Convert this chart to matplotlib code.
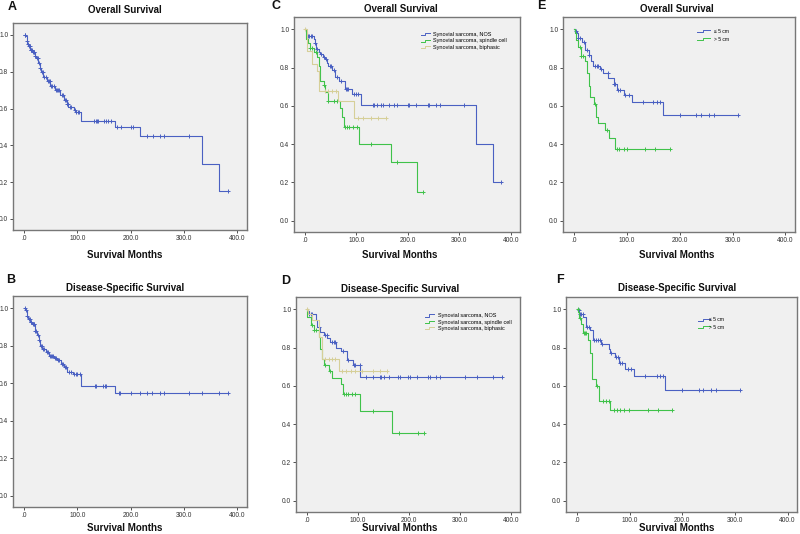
import numpy as np
import matplotlib
matplotlib.use("Agg")
import matplotlib.pyplot as plt
from matplotlib.legend_handler import HandlerBase
from matplotlib.lines import Line2D

plt.rcParams['font.family'] = ['Liberation Sans', 'DejaVu Sans']

# ---------------- data ----------------
x_ticks = [0, 100, 200, 300, 400]
x_tick_labels = [".0", "100.0", "200.0", "300.0", "400.0"]
y_ticks = [0.0, 0.2, 0.4, 0.6, 0.8, 1.0]
y_tick_labels = ["0.0", "0.2", "0.4", "0.6", "0.8", "1.0"]

# Panel A: overall survival, all patients
A_t = [0, 3, 4.5, 6, 8, 11, 15, 20, 23, 26.5, 29, 31, 36, 42, 49, 58, 68, 74, 80, 83, 93, 96, 106, 170, 218, 333, 366]
A_s = [1.0, 0.995, 0.967, 0.95, 0.94, 0.92, 0.91, 0.887, 0.874, 0.85, 0.82, 0.80, 0.773, 0.75, 0.725, 0.70, 0.674,
       0.644, 0.626, 0.61, 0.59, 0.58, 0.532, 0.50, 0.45, 0.30, 0.15]
A_end = 382
A_cens = [1, 2, 5, 7, 9, 10, 12, 13, 14, 16, 18, 19, 21, 24, 25, 27, 30, 33, 35, 38, 40, 44, 46, 48, 51, 53, 55, 60,
          62, 64, 66, 70, 72, 76, 79, 81, 82, 86, 88, 95, 98, 101, 103, 131, 134, 136, 138, 150, 153, 157, 163, 175,
          181, 200, 204, 231, 241, 254, 263, 310, 382]

# Panel B: disease-specific survival, all patients
B_t = [0, 2, 5, 8, 11.4, 14.6, 20, 24, 27, 29, 34, 40, 46, 56, 62, 69, 75, 81, 91, 107, 170]
B_s = [1.0, 0.99, 0.96, 0.943, 0.925, 0.915, 0.88, 0.855, 0.83, 0.80, 0.78, 0.766, 0.743, 0.735, 0.722, 0.70, 0.687,
       0.66, 0.648, 0.586, 0.55]
B_end = 382
B_cens = [1, 3, 6, 9, 10, 12, 13, 16, 18, 19, 21, 23, 25, 28, 31, 33, 36, 38, 42, 44, 48, 50, 52, 54, 58, 60, 64, 66,
          70, 72, 77, 79, 84, 88, 94, 97, 100, 104, 132, 135, 148, 151, 154, 177, 180, 201, 217, 231, 240, 254, 263,
          310, 333, 366, 382]

# Panel C: overall survival by histology
C_nos_t = [0, 2.6, 4.5, 17, 19, 22, 27, 30, 35, 40, 43, 46, 53, 58, 66, 78, 91, 109, 333, 366]
C_nos_s = [1.0, 0.988, 0.965, 0.95, 0.93, 0.90, 0.88, 0.87, 0.857, 0.843, 0.826, 0.81, 0.79, 0.753, 0.73, 0.69,
           0.664, 0.605, 0.40, 0.20]
C_nos_end = 382
C_nos_cens = [6, 9, 12, 14, 20, 24, 32, 37, 41, 48, 50, 56, 62, 70, 80, 82, 84, 95, 100, 104, 132, 134, 141, 148,
              151, 164, 174, 180, 200, 202, 216, 239, 242, 255, 263, 310, 382]
C_spin_t = [0, 2.6, 6, 11, 17, 24, 27, 30, 37, 40, 45, 69, 73, 77, 105, 168, 217]
C_spin_s = [1.0, 0.948, 0.93, 0.904, 0.88, 0.857, 0.81, 0.73, 0.708, 0.673, 0.626, 0.59, 0.54, 0.487, 0.403, 0.304,
            0.151]
C_spin_end = 230
C_spin_cens = [11, 14, 21, 37, 46, 56, 62, 78, 82, 85, 93, 101, 128, 180, 230]
C_bi_t = [0, 4.5, 13, 24, 27, 28, 64, 95]
C_bi_s = [1.0, 0.887, 0.817, 0.78, 0.73, 0.678, 0.626, 0.536]
C_bi_end = 157
C_bi_cens = [1, 40, 46, 53, 60, 104, 114, 129, 143, 157]

# Panel D: disease-specific survival by histology
D_nos_t = [0, 3, 4.5, 17.5, 19, 21, 27, 34, 40, 45, 58, 68, 79, 90, 105]
D_nos_s = [1.0, 0.99, 0.977, 0.96, 0.943, 0.908, 0.88, 0.864, 0.85, 0.83, 0.80, 0.78, 0.737, 0.708, 0.647]
D_nos_end = 382
D_nos_cens = [5, 8, 11, 25, 35, 39, 50, 53, 56, 71, 80, 92, 95, 104, 116, 130, 143, 146, 152, 162, 178, 182, 199, 202,
              216, 238, 241, 254, 262, 310, 333, 366, 382]
D_spin_t = [0, 1.3, 8, 14, 24, 27, 30, 34, 43, 49, 68, 71, 105, 167]
D_spin_s = [1.0, 0.96, 0.916, 0.89, 0.855, 0.795, 0.743, 0.708, 0.68, 0.643, 0.609, 0.56, 0.47, 0.355]
D_spin_end = 230
D_spin_cens = [11, 14, 18, 36, 45, 74, 77, 80, 88, 95, 130, 180, 218, 230]
D_bi_t = [0, 3, 10, 24, 29, 63]
D_bi_s = [1.0, 0.977, 0.943, 0.855, 0.743, 0.68]
D_bi_end = 157
D_bi_cens = [1, 36, 43, 50, 56, 70, 77, 86, 95, 108, 129, 144, 157]

# Panel E: overall survival by tumour size
E_le_t = [0, 2, 5, 7, 14.5, 21, 28, 32, 35, 49, 54, 65, 75, 81, 93.5, 109, 169]
E_le_s = [1.0, 0.993, 0.98, 0.954, 0.936, 0.893, 0.868, 0.833, 0.81, 0.794, 0.773, 0.747, 0.713, 0.684, 0.656, 0.619,
          0.55]
E_le_end = 310
E_le_cens = [3, 8, 11, 18, 24, 29, 40, 43, 45, 51, 64, 75, 78, 83, 87, 97, 103, 131, 150, 157, 163, 201, 231, 240,
             255, 264, 310]
E_gt_t = [0, 2, 4, 8, 13, 20, 24, 28, 30, 38.5, 42, 46, 59, 66, 78]
E_gt_s = [1.0, 0.98, 0.945, 0.91, 0.862, 0.833, 0.773, 0.704, 0.644, 0.61, 0.54, 0.512, 0.472, 0.433, 0.375]
E_gt_end = 182
E_gt_cens = [11, 14, 17, 40, 62, 81, 85, 95, 100, 135, 154, 182]

# Panel F: disease-specific survival by tumour size
F_le_t = [0, 2.5, 4.5, 12, 17, 25, 29.5, 31, 46, 60, 63.5, 73, 79.5, 92, 108, 168]
F_le_s = [1.0, 0.995, 0.976, 0.96, 0.907, 0.89, 0.873, 0.838, 0.82, 0.795, 0.773, 0.749, 0.72, 0.69, 0.652, 0.58]
F_le_end = 310
F_le_cens = [3, 6, 8, 11, 19, 23, 33, 36, 40, 43, 48, 64, 74, 78, 82, 86, 96, 102, 130, 151, 157, 163, 200, 231, 240,
             255, 264, 310]
F_gt_t = [0, 2.5, 4, 8, 12, 20.5, 24, 28, 36, 42, 63]
F_gt_s = [1.0, 0.985, 0.955, 0.924, 0.876, 0.842, 0.773, 0.635, 0.597, 0.523, 0.472]
F_gt_end = 181
F_gt_cens = [1, 6, 13, 15, 17, 38, 50, 55, 60, 70, 76, 82, 90, 98, 135, 153, 181]

histology_labels = ["Synovial sarcoma, NOS", "Synovial sarcoma, spindle cell", "Synovial sarcoma, biphasic"]
size_labels = ["\u2264 5 cm", "> 5 cm"]

# ---------------- styling ----------------
BLUE = "#4a60c2"
GREEN = "#3fc24a"
TAN = "#d6cf98"
BG = "#f0f0f0"
EDGE = "#777777"

W, H = 800, 534
fig = plt.figure(figsize=(W / 100, H / 100), dpi=100)
fig.patch.set_facecolor("white")


def px_axes(left, top, right, bottom):
    return fig.add_axes([left / W, 1 - bottom / H, (right - left) / W, (bottom - top) / H])


def ftext(x, y, s, **kw):
    fig.text(x / W, 1 - y / H, s, **kw)


class StepHandler(HandlerBase):
    def create_artists(self, legend, orig_handle, xdescent, ydescent, width, height, fontsize, trans):
        x0, y0 = -xdescent, -ydescent
        xs = [x0, x0 + width * 0.45, x0 + width * 0.45, x0 + width]
        ys = [y0 + height * 0.15, y0 + height * 0.15, y0 + height * 0.7, y0 + height * 0.7]
        ln = Line2D(xs, ys, color=orig_handle.get_color(), lw=0.7, transform=trans)
        return [ln]


def km(ax, t, s, end, cens, color):
    t = np.asarray(t, float)
    s = np.asarray(s, float)
    xs = np.append(t, end)
    ys = np.append(s, s[-1])
    line, = ax.step(xs, ys, where="post", color=color, lw=0.8)
    c = np.asarray(cens, float)
    idx = np.searchsorted(t, c, side="right") - 1
    ax.plot(c, s[idx], linestyle="none", marker="+", ms=3.2, mew=0.7, color=color)
    return line


def style(ax):
    ax.set_facecolor(BG)
    for sp in ax.spines.values():
        sp.set_color(EDGE)
        sp.set_linewidth(1.0)
    ax.set_xlim(-21, 418)
    ax.set_ylim(-0.06, 1.065)
    ax.set_xticks(x_ticks)
    ax.set_xticklabels(x_tick_labels)
    ax.set_yticks(y_ticks)
    ax.set_yticklabels(y_tick_labels)
    ax.tick_params(axis="both", direction="out", length=2.2, width=0.6, color="#333333",
                   labelsize=4.8, labelcolor="#333333", pad=1.2)


TITLE_KW = dict(fontsize=7.0, fontweight="bold", ha="center", va="center", color="#111111")
LETTER_KW = dict(fontsize=9, fontweight="bold", ha="center", va="center", color="#111111")

# panel boxes in pixels: left, top, right, bottom
boxes = {
    "A": (13, 23, 247, 230),
    "B": (13, 296, 247, 507),
    "C": (294, 17, 520, 232),
    "D": (296, 297, 520, 512),
    "E": (563, 17, 795, 232),
    "F": (566, 297, 797, 512),
}
titles = {"A": "Overall Survival", "B": "Disease-Specific Survival", "C": "Overall Survival",
          "D": "Disease-Specific Survival", "E": "Overall Survival", "F": "Disease-Specific Survival"}
title_pos = {"A": (125, 10), "B": (125, 288), "C": (401, 9), "D": (400, 289), "E": (677, 9), "F": (677, 288)}
letter_pos = {"A": (12, 7), "B": (11, 280), "C": (276, 6), "D": (286, 281), "E": (541, 6), "F": (560, 280)}
xlabel_pos = {"A": (125, 255), "B": (125, 528), "C": (400, 255), "D": (400, 528), "E": (677, 255), "F": (677, 528)}

axes = {}
for k, b in boxes.items():
    ax = px_axes(*b)
    style(ax)
    axes[k] = ax
    ftext(*title_pos[k], titles[k], **TITLE_KW)
    ftext(*letter_pos[k], k, **LETTER_KW)
    ftext(*xlabel_pos[k], "Survival Months", **TITLE_KW)

km(axes["A"], A_t, A_s, A_end, A_cens, BLUE)
km(axes["B"], B_t, B_s, B_end, B_cens, BLUE)

leg_kw = dict(frameon=False, handler_map={Line2D: StepHandler()}, borderpad=0, borderaxespad=0)

hc = [km(axes["C"], C_nos_t, C_nos_s, C_nos_end, C_nos_cens, BLUE),
      km(axes["C"], C_spin_t, C_spin_s, C_spin_end, C_spin_cens, GREEN),
      km(axes["C"], C_bi_t, C_bi_s, C_bi_end, C_bi_cens, TAN)]
axes["C"].legend(hc, histology_labels, loc="upper left", bbox_to_anchor=(0.56, 0.93), fontsize=4.0,
                 handlelength=1.7, handletextpad=0.6, labelspacing=0.25, **leg_kw)

hd = [km(axes["D"], D_nos_t, D_nos_s, D_nos_end, D_nos_cens, BLUE),
      km(axes["D"], D_spin_t, D_spin_s, D_spin_end, D_spin_cens, GREEN),
      km(axes["D"], D_bi_t, D_bi_s, D_bi_end, D_bi_cens, TAN)]
axes["D"].legend(hd, histology_labels, loc="upper left", bbox_to_anchor=(0.575, 0.925), fontsize=4.0,
                 handlelength=1.7, handletextpad=0.6, labelspacing=0.25, **leg_kw)

he = [km(axes["E"], E_le_t, E_le_s, E_le_end, E_le_cens, BLUE),
      km(axes["E"], E_gt_t, E_gt_s, E_gt_end, E_gt_cens, GREEN)]
axes["E"].legend(he, size_labels, loc="upper left", bbox_to_anchor=(0.578, 0.945), fontsize=3.6,
                 handlelength=2.5, handletextpad=0.8, labelspacing=0.55, **leg_kw)

hf = [km(axes["F"], F_le_t, F_le_s, F_le_end, F_le_cens, BLUE),
      km(axes["F"], F_gt_t, F_gt_s, F_gt_end, F_gt_cens, GREEN)]
axes["F"].legend(hf, size_labels, loc="upper left", bbox_to_anchor=(0.571, 0.905), fontsize=3.6,
                 handlelength=2.4, handletextpad=-0.1, labelspacing=0.45, **leg_kw)

fig.savefig("out.png", dpi=100, facecolor="white")
